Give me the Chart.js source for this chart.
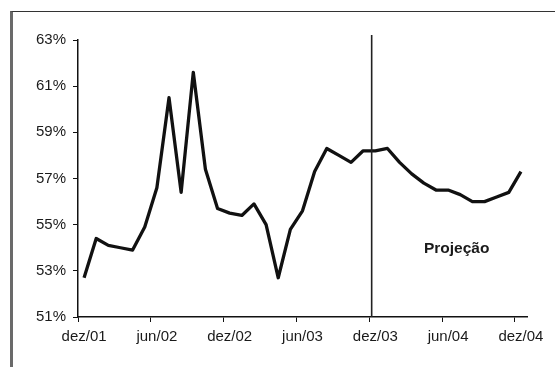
<!DOCTYPE html>
<html lang="pt">
<head>
    <meta charset="UTF-8">
    <title>Projeção</title>
    <script src="https://cdn.jsdelivr.net/npm/chart.js"></script>
    <style>
        body { margin: 0; background: #ffffff; }
        #wrap { position: relative; width: 555px; height: 367px; overflow: hidden; }
        /* moldura da figura */
        #frame {
            position: absolute; left: 10px; top: 11px; width: 600px; height: 400px;
            border-left: 3px solid #6a6a6a; border-top: 1.5px solid #333;
        }
        canvas { position: absolute; left: 0; top: 0; }
    </style>
</head>
<body>
<div id="wrap">
    <div id="frame"></div>
    <canvas id="chart" width="555" height="367"></canvas>
</div>

<script>
    // meses dez/01 .. dez/04
    const months = [
        "dez/01", "jan/02", "fev/02", "mar/02", "abr/02", "mai/02", "jun/02", "jul/02", "ago/02", "set/02", "out/02", "nov/02",
        "dez/02", "jan/03", "fev/03", "mar/03", "abr/03", "mai/03", "jun/03", "jul/03", "ago/03", "set/03", "out/03", "nov/03",
        "dez/03", "jan/04", "fev/04", "mar/04", "abr/04", "mai/04", "jun/04", "jul/04", "ago/04", "set/04", "out/04", "nov/04",
        "dez/04"
    ];
    // valores em %
    const values = [
        52.7, 54.4, 54.1, 54.0, 53.9, 54.9, 56.6, 60.5, 56.4, 61.6, 57.4, 55.7,
        55.5, 55.4, 55.9, 55.0, 52.7, 54.8, 55.6, 57.3, 58.3, 58.0, 57.7, 58.2,
        58.2, 58.3, 57.7, 57.2, 56.8, 56.5, 56.5, 56.3, 56.0, 56.0, 56.2, 56.4,
        57.3
    ];
    const yTicks = [51, 53, 55, 57, 59, 61, 63];
    const labelEvery = 6;
    const dividerAt = 23.7;      // início da projeção
    const projLabel = "Projeção";
    const projLabelAt = [30.7, 53.95];

    const font = { family: "'Liberation Sans', Arial, sans-serif", size: 15 };

    const extras = {
        id: "extras",
        afterDatasetsDraw(chart) {
            const ctx = chart.ctx;
            const xs = chart.scales.x, ys = chart.scales.y;
            const x = xs.getPixelForValue(dividerAt);
            ctx.save();
            ctx.strokeStyle = "#222";
            ctx.lineWidth = 1.6;
            ctx.beginPath();
            ctx.moveTo(x, ys.top - 5);
            ctx.lineTo(x, ys.bottom);
            ctx.stroke();

            ctx.fillStyle = "#1a1a1a";
            ctx.font = "bold 15.5px 'Liberation Sans', Arial, sans-serif";
            ctx.textAlign = "center";
            ctx.textBaseline = "middle";
            ctx.fillText(projLabel, xs.getPixelForValue(projLabelAt[0]), ys.getPixelForValue(projLabelAt[1]));
            ctx.restore();
        }
    };

    new Chart(document.getElementById("chart"), {
        type: "line",
        data: {
            labels: months,
            datasets: [{
                data: values,
                borderColor: "#111",
                borderWidth: 3.3,
                pointRadius: 0,
                tension: 0,
                borderJoinStyle: "round"
            }]
        },
        options: {
            responsive: false,
            animation: false,
            layout: { padding: { left: 0, right: 28, top: 40, bottom: 0 } },
            plugins: { legend: { display: false }, tooltip: { enabled: false } },
            scales: {
                x: {
                    offset: true,
                    border: { color: "#111", width: 1.5 },
                    grid: {
                        offset: true,
                        drawOnChartArea: false,
                        tickLength: 5,
                        tickColor: c => (c.index % labelEvery === 0 ? "#111" : "rgba(0,0,0,0)")
                    },
                    ticks: {
                        autoSkip: false,
                        maxRotation: 0,
                        padding: 6,
                        color: "#1a1a1a",
                        font: font,
                        callback: (v, i) => (i % labelEvery === 0 ? months[i] : "")
                    },
                    afterFit: s => { s.height = 50; }
                },
                y: {
                    min: yTicks[0],
                    max: yTicks[yTicks.length - 1],
                    border: { color: "#111", width: 1.5 },
                    grid: { drawOnChartArea: false, tickLength: 5, tickColor: "#111" },
                    ticks: {
                        stepSize: 2,
                        padding: 7,
                        color: "#1a1a1a",
                        font: font,
                        callback: v => v + "%"
                    },
                    afterFit: s => { s.width = 78; }
                }
            }
        },
        plugins: [extras]
    });
</script>
</body>
</html>
